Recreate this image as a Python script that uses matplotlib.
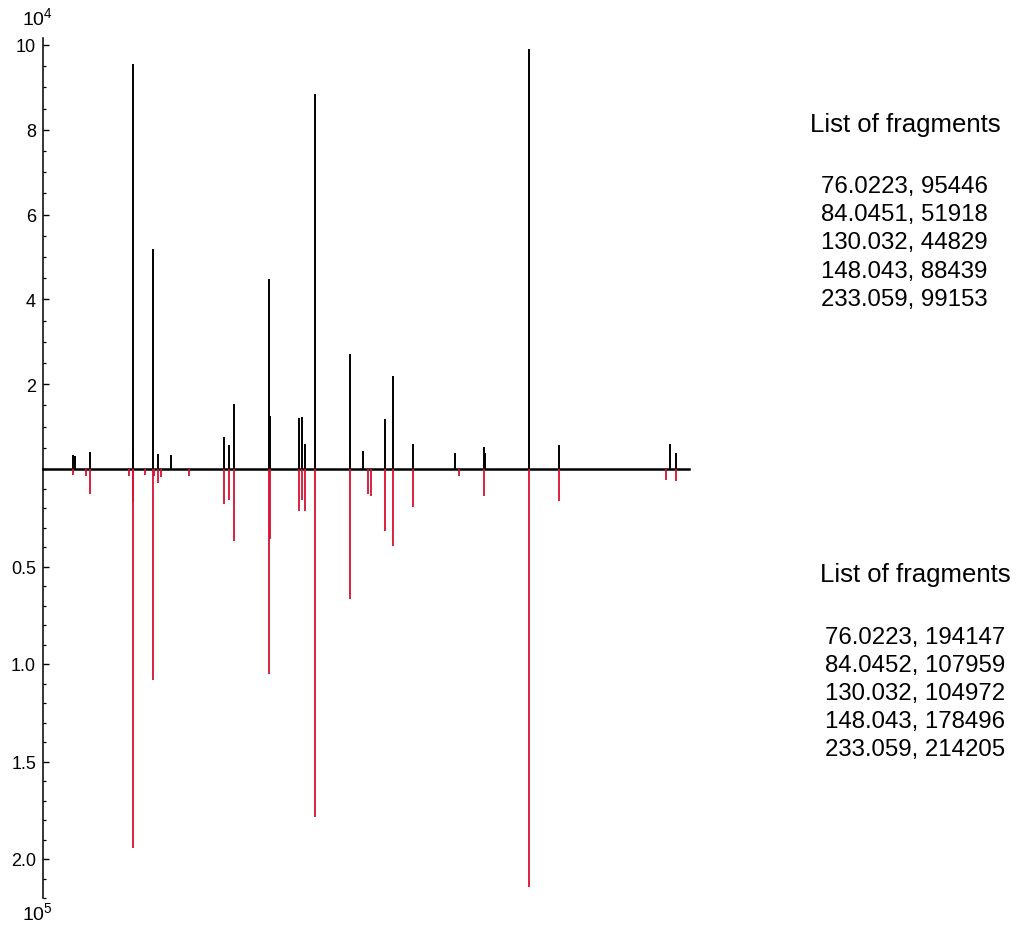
import matplotlib
matplotlib.use("Agg")
import matplotlib.pyplot as plt
from matplotlib.ticker import FixedLocator, MultipleLocator, FuncFormatter

plt.rcParams['font.family'] = ['Liberation Sans', 'DejaVu Sans']
plt.rcParams['mathtext.fontset'] = 'custom'
plt.rcParams['mathtext.rm'] = 'Liberation Sans'

# ---- data ----
# labelled fragments (top = sample, bottom = reference)
frag_mz_top = [76.0223, 84.0451, 130.032, 148.043, 233.059]
frag_int_top = [95446, 51918, 44829, 88439, 99153]
frag_mz_bot = [76.0223, 84.0452, 130.032, 148.043, 233.059]
frag_int_bot = [194147, 107959, 104972, 178496, 214205]

# other peaks
minor_mz_top = [52.2, 53.1, 59.0, 76.2, 85.9, 91.0, 112.0, 114.1, 116.1, 130.2,
                142.0, 143.0, 144.1, 162.1, 167.1, 176.1, 179.1, 187.2, 203.8,
                215.1, 215.8, 245.1, 288.9, 291.2]
minor_int_top = [3200, 3050, 3900, 4450, 3600, 3300, 7500, 5600, 15400, 12600,
                 12000, 12250, 5800, 27200, 4300, 11700, 22000, 6000, 3700,
                 5150, 3700, 5550, 5850, 3800]
minor_mz_bot = [52.2, 57.4, 59.0, 74.4, 76.2, 80.7, 84.5, 85.9, 87.0, 98.2,
                112.0, 114.1, 116.1, 130.2, 142.0, 143.0, 144.1, 162.1, 169.2,
                170.2, 176.1, 179.1, 187.2, 205.2, 215.1, 245.1, 287.4, 291.2]
minor_int_bot = [3100, 3400, 12700, 3400, 16700, 2900, 3800, 7300, 3900, 3600,
                 18100, 16100, 36900, 35900, 21700, 15700, 21500, 66700, 12600,
                 13700, 31800, 39300, 19300, 3800, 13800, 16400, 5600, 6000]

top_ticks = [20000, 40000, 60000, 80000, 100000]
bot_ticks = [50000, 100000, 150000, 200000]

W, H = 1019, 929
fig = plt.figure(figsize=(W / 100, H / 100), dpi=100)

left_px, right_px = 43, 689
zero_px, top_px, bot_px = 470, 39, 899
ax_t = fig.add_axes([left_px / W, (H - zero_px) / H, (right_px - left_px) / W, (zero_px - top_px) / H])
ax_b = fig.add_axes([left_px / W, (H - bot_px) / H, (right_px - left_px) / W, (bot_px - zero_px) / H])

xlim = (40.33, 296.5)
red = '#d8102f'

ax_t.vlines(minor_mz_top + frag_mz_top, 0, minor_int_top + frag_int_top, colors='black', lw=1.4)
ax_b.vlines(minor_mz_bot + frag_mz_bot, 0, minor_int_bot + frag_int_bot, colors=red, lw=1.3)

for ax in (ax_t, ax_b):
    ax.set_xlim(*xlim)
    for s in ('top', 'right', 'bottom'):
        ax.spines[s].set_visible(False)
    ax.spines['left'].set_linewidth(1.1)
    ax.xaxis.set_visible(False)
    ax.patch.set_visible(False)
    ax.tick_params(axis='y', which='major', direction='in', length=4, width=1.0,
                   labelsize=13, pad=5)
    ax.tick_params(axis='y', which='minor', direction='in', length=2.5, width=0.9)

ax_t.set_ylim(0, 101650)
ax_t.yaxis.set_major_locator(FixedLocator(top_ticks))
ax_t.yaxis.set_minor_locator(MultipleLocator(5000))
ax_t.yaxis.set_major_formatter(FuncFormatter(lambda v, p: f'{v / 1e4:g}'))

ax_b.set_ylim(220000, 0)
ax_b.yaxis.set_major_locator(FixedLocator(bot_ticks))
ax_b.yaxis.set_minor_locator(MultipleLocator(10000))
ax_b.yaxis.set_major_formatter(FuncFormatter(lambda v, p: f'{v / 1e5:.1f}'))

# zero line
ax_t.axhline(0, color='black', lw=1.8, clip_on=False, zorder=5)

fig.text(37 / W, 1 - 18 / H, r'$\mathregular{10^4}$', ha='center', va='center', fontsize=14)
fig.text(37 / W, 1 - 913 / H, r'$\mathregular{10^5}$', ha='center', va='center', fontsize=14)

# fragment lists
top_lines = '\n'.join(f'{m:g}, {i}' for m, i in zip(frag_mz_top, frag_int_top))
bot_lines = '\n'.join(f'{m:g}, {i}' for m, i in zip(frag_mz_bot, frag_int_bot))
fig.text(905 / W, 1 - 125 / H, 'List of fragments', ha='center', va='center', fontsize=18.5)
fig.text(904 / W, 1 - 243.5 / H, top_lines, ha='center', va='center', fontsize=17.3,
         linespacing=1.38, multialignment='center')
fig.text(915 / W, 1 - 575 / H, 'List of fragments', ha='center', va='center', fontsize=18.5)
fig.text(915 / W, 1 - 694 / H, bot_lines, ha='center', va='center', fontsize=17.3,
         linespacing=1.36, multialignment='center')

fig.savefig('out.png', dpi=100)
